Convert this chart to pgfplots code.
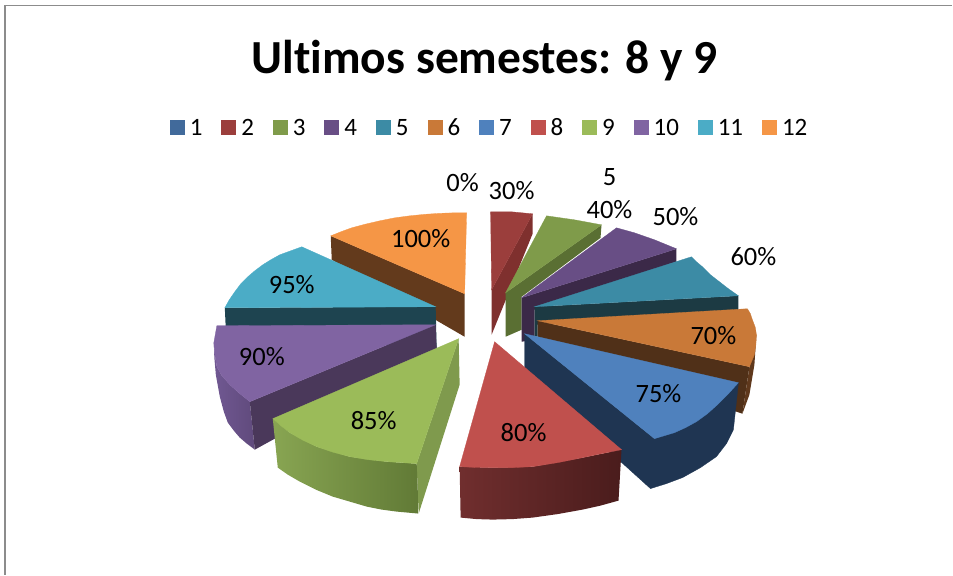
\documentclass[border=0pt]{standalone}
\usepackage{fontspec}
\setmainfont[RawFeature=-liga]{Carlito}
\usepackage{pgfplots}
\pgfplotsset{compat=1.18}
\definecolor{c1}{RGB}{65,106,155}
\definecolor{c2}{RGB}{155,62,60}
\definecolor{c3}{RGB}{127,155,74}
\definecolor{c4}{RGB}{104,78,133}
\definecolor{c5}{RGB}{60,139,165}
\definecolor{c6}{RGB}{201,121,56}
\definecolor{c7}{RGB}{79,129,189}
\definecolor{c8}{RGB}{192,80,77}
\definecolor{c9}{RGB}{155,187,89}
\definecolor{c10}{RGB}{128,100,162}
\definecolor{c11}{RGB}{75,172,198}
\definecolor{c12}{RGB}{245,150,70}
\definecolor{s12}{RGB}{99,58,28}
\definecolor{s11}{RGB}{30,68,80}
\definecolor{s10}{RGB}{74,56,90}
\definecolor{s2}{RGB}{127,48,46}
\definecolor{s3}{RGB}{90,111,51}
\definecolor{s4}{RGB}{59,41,72}
\definecolor{s5}{RGB}{28,58,67}
\definecolor{s6}{RGB}{80,48,24}
\definecolor{s7}{RGB}{31,53,82}
\definecolor{s9}{RGB}{127,154,77}
\newcommand{\lab}{\fontsize{26.5}{30}\selectfont}
\begin{document}
\begin{tikzpicture}
\begin{axis}[
  scale only axis, width=953pt, height=575pt,
  xmin=0, xmax=953, ymin=0, ymax=575, y dir=reverse,
  hide axis, clip=false,
  title={Ultimos semestes: 8 y 9},
  title style={at={(axis description cs:0.509,0.885)},anchor=center,font=\fontsize{47.5}{54}\selectfont\bfseries},
  legend style={at={(axis cs:490,128)},anchor=center,draw=none,fill=none,
    font=\fontsize{25}{28}\selectfont,legend columns=12,
    /tikz/every even column/.append style={column sep=16.9pt},
    inner sep=0pt,outer sep=0pt},
  legend cell align=left,
  legend image code/.code={\fill[#1,draw=none] (0pt,-7.5pt) rectangle (15pt,7.5pt);\path[draw=none,fill=none] (0pt,0pt) -- (18pt,0pt);},
  every axis plot/.append style={line width=0.3pt},
]
\addlegendimage{c1}\addlegendentry{1}
\addlegendimage{c2}\addlegendentry{2}
\addlegendimage{c3}\addlegendentry{3}
\addlegendimage{c4}\addlegendentry{4}
\addlegendimage{c5}\addlegendentry{5}
\addlegendimage{c6}\addlegendentry{6}
\addlegendimage{c7}\addlegendentry{7}
\addlegendimage{c8}\addlegendentry{8}
\addlegendimage{c9}\addlegendentry{9}
\addlegendimage{c10}\addlegendentry{10}
\addlegendimage{c11}\addlegendentry{11}
\addlegendimage{c12}\addlegendentry{12}
% frame
\addplot[draw=none] coordinates {(0,0)(953,575)};
\addplot[draw={rgb,255:red,140;green,140;blue,140},line width=1.5pt] coordinates {(5,575)(5,5.5)(953,5.5)};
% slice 12
\addplot[fill=s12,draw=none] coordinates {(331,236)(465,294)(465,337)(332,260)} --cycle;
\addplot[fill=c12,draw=c12] coordinates {(465,294)(331,236)(341,232)(352,228)(365,224.5)(380,221)(395,218)(410,216)(425,214.5)(440,213.5)(454,213)(467,213)} --cycle;
% slice 11
\addplot[fill=s11,draw=none] coordinates {(225,308)(436,307)(437,350)(226,330)} --cycle;
\addplot[fill=c11,draw=c11] coordinates {(436,307)(225,308)(229.5,300)(235,292)(241,284)(248,277)(255,271)(263,265)(271,260)(280,255)(291,251)(302,247)} --cycle;
% slice 10
\addplot[left color={rgb,255:red,112;green,88;blue,146},right color={rgb,255:red,96;green,74;blue,124},draw=none] coordinates {(214,343)(215,355)(217,367)(222,376)(230,385)(240,394)(250,402)(255,450)(247,444)(240,438)(234,431)(228,423)(224,412)(220,397)(216,375)(214.5,358)} --cycle;
\addplot[fill=s10,draw=none] coordinates {(250,402)(436,325)(437,350)(255,450)} --cycle;
\addplot[fill=c10,draw=c10] coordinates {(436,325)(217,326)(214,343)(215,355)(217,367)(222,376)(230,385)(240,394)(250,402)} --cycle;
% slice 2
\addplot[fill=s2,draw=none] coordinates {(533,214)(492,290)(492,335)(533,234)} --cycle;
\addplot[fill=c2,draw=c2] coordinates {(491,212)(512,212)(533,214)(492,290)} --cycle;
% slice 3
\addplot[fill=s3,draw=none] coordinates {(506,293)(602,225)(601,238)(522,297)(522,330)(506,337)} --cycle;
\addplot[fill=c3,draw=c3] coordinates {(547,216)(575,220)(602,225)(506,293)} --cycle;
% slice 4
\addplot[fill=s4,draw=none] coordinates {(522,298)(677,249)(677,262)(535,310)(535,340)(522,342)} --cycle;
\addplot[fill=c4,draw=c4] coordinates {(522,298)(617,228)(626,230.5)(635,233)(645,236.5)(655,240)(666,244.5)(677,249)} --cycle;
% slice 5
\addplot[fill=s5,draw=none] coordinates {(535,307)(739,296)(739,310)(538,325)(538,337)(535,337)} --cycle;
\addplot[fill=c5,draw=c5] coordinates {(535,307)(692,257)(697,262)(703,267)(711,275)(720,282)(729,289)(739,296)} --cycle;
% slice 6
\addplot[fill=s6,draw=none] coordinates {(538,321)(750,367)(743,414)(538,345)} --cycle;
\addplot[fill={rgb,255:red,95;green,56;blue,28},draw=none] coordinates {(757,335)(750,367)(743,414)(750,395)(755,365)} --cycle;
\addplot[fill=c6,draw=c6] coordinates {(538,321)(748,309)(751,314)(753,320)(756,328)(757,335)(756.5,345)(755,355)(750,367)} --cycle;
% slice 7
\addplot[fill=s7,draw=s7] coordinates {(525,334)(655,439)(739,383)(734,430)(727,444)(717,457)(701,468)(683,478)(667,484)(651,489)(525,375)} --cycle;
\addplot[fill=c7,draw=c7] coordinates {(525,334)(739,383)(729,394)(718,405)(708,414)(697,422)(686,428)(675,433)(665,436)(655,439)} --cycle;
% slice 9
\addplot[fill=s9,draw=none] coordinates {(459,339)(417,464)(419,514)(460,385)} --cycle;
\addplot[left color={rgb,255:red,136;green,165;blue,82},right color={rgb,255:red,97;green,122;blue,54},draw=none] coordinates {(273,419)(290,433)(317,447)(350,457)(387,462)(417,464)(419,514)(408,513)(397,512)(382,510)(367,507)(350,502)(333,497)(316,490)(300,482)(288,475)(278,468)} --cycle;
\addplot[fill=c9,draw=c9] coordinates {(459,339)(417,464)(402,463)(387,462)(368,460)(350,457)(333,452.5)(317,447)(303,440.5)(290,433)(281,426)(273,419)} --cycle;
% slice 8
\addplot[left color={rgb,255:red,112;green,46;blue,46},right color={rgb,255:red,74;green,28;blue,28},draw=none] coordinates {(460,467)(493,468)(533,467)(583,458)(622,450)(619,501)(601,506)(583,510)(558,514.5)(533,518)(513,519.5)(493,520)(477,519.5)(461,518)} --cycle;
\addplot[fill=c8,draw=c8] coordinates {(495,342)(622,450)(602,454)(583,458)(558,463)(533,467)(513,468)(493,468)(476,467.8)(460,467)} --cycle;
% data labels
\node[font=\lab] at (axis cs:463,183) {0\%};
\node[font=\lab] at (axis cs:512,191) {30\%};
\node[font=\lab] at (axis cs:610,177) {5};
\node[font=\lab] at (axis cs:610,210) {40\%};
\node[font=\lab] at (axis cs:676,217) {50\%};
\node[font=\lab] at (axis cs:754,257) {60\%};
\node[font=\lab] at (axis cs:714,336) {70\%};
\node[font=\lab] at (axis cs:659,394) {75\%};
\node[font=\lab] at (axis cs:524,433) {80\%};
\node[font=\lab] at (axis cs:374,421) {85\%};
\node[font=\lab] at (axis cs:262,357) {90\%};
\node[font=\lab] at (axis cs:292,285) {95\%};
\node[font=\lab] at (axis cs:421,239) {100\%};
\end{axis}
\end{tikzpicture}
\end{document}
